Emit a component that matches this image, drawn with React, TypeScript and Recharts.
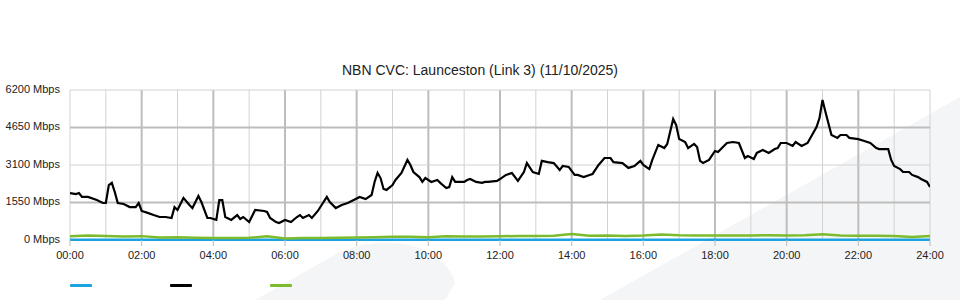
import React from "react";
import { LineChart, Line, XAxis, YAxis, ReferenceLine, Legend } from "recharts";

const chartTitle = "NBN CVC: Launceston (Link 3) (11/10/2025)";

// Minutes since midnight and Mbps for the black series
const blackTimes = [
  0, 10, 15, 20, 30, 45, 55, 60, 65, 70, 75, 80, 90, 100, 110, 115, 120, 130, 140, 150,
  160, 170, 175, 180, 190, 200, 205, 215, 220, 230, 235, 245, 250, 255, 260, 270, 280, 285, 290, 300,
  310, 325, 330, 335, 345, 350, 360, 370, 380, 385, 390, 400, 405, 415, 430, 435, 445, 455, 465, 475,
  485, 495, 505, 510, 515, 520, 525, 530, 540, 545, 555, 565, 570, 575, 585, 590, 595, 605, 615, 620,
  630, 635, 640, 645, 660, 665, 670, 680, 690, 695, 700, 715, 720, 730, 740, 750, 760, 765, 775, 785,
  790, 800, 810, 820, 825, 835, 845, 850, 860, 870, 875, 885, 895, 905, 910, 925, 935, 945, 955, 960,
  970, 975, 985, 995, 1000, 1010, 1015, 1020, 1030, 1035, 1045, 1050, 1055, 1060, 1070, 1080, 1085, 1100, 1110, 1120,
  1130, 1135, 1145, 1150, 1160, 1170, 1180, 1185, 1190, 1200, 1210, 1215, 1225, 1235, 1250, 1255, 1260, 1265, 1275, 1285,
  1290, 1300, 1305, 1320, 1330, 1340, 1350, 1355, 1370, 1375, 1380, 1390, 1395, 1405, 1410, 1420, 1425, 1435, 1440,
];
const blackValues = [
  1940, 1900, 1940, 1780, 1780, 1650, 1530, 1530, 2270, 2360, 1980, 1530, 1490, 1360, 1360, 1530, 1200, 1120, 1030, 950,
  950, 910, 1360, 1240, 1740, 1450, 1320, 1820, 1570, 910, 910, 830, 1650, 1650, 950, 830, 1030, 870, 950, 740,
  1240, 1200, 1160, 910, 740, 700, 830, 740, 950, 1030, 910, 1030, 910, 1200, 1780, 1570, 1320, 1450, 1530, 1650,
  1780, 1690, 1860, 2400, 2770, 2560, 2110, 2070, 2270, 2480, 2770, 3310, 3100, 2810, 2600, 2400, 2560, 2400, 2480, 2360,
  2150, 2190, 2600, 2400, 2400, 2480, 2520, 2400, 2360, 2400, 2400, 2440, 2520, 2690, 2770, 2440, 2810, 3180, 2810, 2730,
  3270, 3220, 3180, 2890, 3060, 3020, 2690, 2690, 2600, 2690, 2730, 3100, 3390, 3390, 3220, 3180, 2980, 3060, 3270, 3100,
  2930, 3310, 3930, 3800, 3970, 5000, 4750, 4170, 4050, 3800, 3970, 3840, 3270, 3180, 3310, 3680, 3640, 4010, 4050, 4010,
  3390, 3470, 3350, 3600, 3720, 3600, 3760, 3800, 4010, 4010, 3890, 4050, 3890, 4010, 4670, 5040, 5790, 5290, 4340, 4220,
  4340, 4340, 4220, 4170, 4090, 4010, 3800, 3760, 3760, 3310, 3060, 2930, 2810, 2810, 2690, 2600, 2520, 2400, 2190,
];

// Green series, every 30 minutes
const greenTimes = [
  0, 30, 60, 90, 120, 150, 180, 210, 240, 270, 300, 330, 360, 390, 420, 450, 480, 510, 540, 570,
  600, 630, 660, 690, 720, 750, 780, 810, 840, 870, 900, 930, 960, 990, 1020, 1050, 1080, 1110, 1140, 1170,
  1200, 1230, 1260, 1290, 1320, 1350, 1380, 1410, 1440,
];
const greenValues = [
  150, 190, 170, 140, 160, 100, 110, 90, 80, 80, 90, 150, 60, 80, 80, 90, 100, 110, 130, 130,
  110, 150, 140, 140, 150, 170, 170, 180, 250, 180, 190, 170, 190, 230, 200, 190, 190, 190, 190, 200,
  190, 200, 240, 190, 180, 180, 170, 120, 170,
];

// Blue series, hourly
const blueTimes = [0, 60, 120, 180, 240, 300, 360, 420, 480, 540, 600, 660, 720, 780, 840, 900, 960, 1020, 1080, 1140, 1200, 1260, 1320, 1380, 1440];
const blueValues = [15, 15, 15, 15, 15, 15, 15, 15, 15, 15, 15, 15, 15, 15, 15, 15, 15, 15, 15, 15, 15, 15, 15, 15, 15];

const xTicks = [0, 120, 240, 360, 480, 600, 720, 840, 960, 1080, 1200, 1320, 1440];
const xTickLabels = ["00:00", "02:00", "04:00", "06:00", "08:00", "10:00", "12:00", "14:00", "16:00", "18:00", "20:00", "22:00", "24:00"];
const yTicks = [0, 1550, 3100, 4650, 6200];
const yTickLabels = ["0 Mbps", "1550 Mbps", "3100 Mbps", "4650 Mbps", "6200 Mbps"];
const hourLines = [0, 60, 120, 180, 240, 300, 360, 420, 480, 540, 600, 660, 720, 780, 840, 900, 960, 1020, 1080, 1140, 1200, 1260, 1320, 1380, 1440];
const darkYLines = [1550, 4650];
const lightYLines = [3100, 6200];

const seriesNames = ["Series A", "Series B", "Series C"];
const seriesColors = ["#1ba3e0", "#000000", "#7dbb2e"];

const toRows = (times: number[], values: number[]) => times.map((t, i) => ({ t, v: values[i] }));
const blueData = toRows(blueTimes, blueValues);
const blackData = toRows(blackTimes, blackValues);
const greenData = toRows(greenTimes, greenValues);

const FONT = "'Liberation Sans', Arial, sans-serif";

const renderLegend = (props: any) => {
  const payload = props.payload || [];
  return (
    <div style={{ display: "flex", height: 10, alignItems: "center" }}>
      {payload.map((p: any, i: number) => (
        <div key={i} style={{ width: 100 }}>
          <span style={{ display: "block", width: 22, height: 3, background: p.color, borderRadius: 1 }} />
        </div>
      ))}
    </div>
  );
};

const YTick = (props: any) => {
  const { x, y, payload } = props;
  return (
    <text x={x} y={y} dy={2.5} textAnchor="end" fontSize={11} fill="#222" fontFamily={FONT}>
      {yTickLabels[yTicks.indexOf(payload.value)]}
    </text>
  );
};

const XTick = (props: any) => {
  const { x, y, payload } = props;
  return (
    <text x={x} y={y} dy={9} textAnchor="middle" fontSize={11} fill="#222" fontFamily={FONT}>
      {xTickLabels[xTicks.indexOf(payload.value)]}
    </text>
  );
};

export default function App() {
  return (
    <div style={{ position: "absolute", left: 0, top: 0, width: 960, height: 300, background: "#fff", overflow: "hidden" }}>
      <svg width={960} height={300} style={{ position: "absolute", left: 0, top: 0 }}>
        <path d="M 255 300 L 340 252 Q 380 236 420 248 Q 450 262 455 283 L 445 300 Z" fill="#f4f5f7" />
        <path d="M 600 300 L 960 97 L 960 300 Z" fill="#f4f5f7" />
      </svg>
      <div
        style={{
          position: "absolute",
          left: 0,
          top: 62,
          width: 960,
          textAlign: "center",
          fontFamily: FONT,
          fontSize: 14,
          color: "#222",
          lineHeight: "16px",
        }}
      >
        {chartTitle}
      </div>
      <div style={{ position: "absolute", left: 0, top: 0 }}>
        <LineChart width={960} height={300} margin={{ top: 90, right: 30, bottom: 30, left: 0 }}>
          {hourLines.map((h) => (
            <ReferenceLine
              key={"h" + h}
              x={h}
              stroke={h % 120 === 0 && h !== 0 && h !== 1440 ? "#bdbdbd" : "#d2d2d2"}
              strokeWidth={h % 120 === 0 && h !== 0 && h !== 1440 ? 2 : 1}
              ifOverflow="extendDomain"
            />
          ))}
          {lightYLines.map((y) => (
            <ReferenceLine key={"ly" + y} y={y} stroke="#d2d2d2" strokeWidth={1} />
          ))}
          {darkYLines.map((y) => (
            <ReferenceLine key={"dy" + y} y={y} stroke="#bdbdbd" strokeWidth={2} />
          ))}
          <XAxis
            dataKey="t"
            type="number"
            domain={[0, 1440]}
            ticks={xTicks}
            allowDataOverflow
            height={20}
            axisLine={false}
            tickLine={{ stroke: "#bbbbbb" }}
            tickSize={6}
            tickMargin={4}
            tick={<XTick />}
          />
          <YAxis
            type="number"
            domain={[0, 6200]}
            ticks={yTicks}
            width={70}
            axisLine={false}
            tickLine={false}
            tickSize={0}
            tickMargin={10}
            tick={<YTick />}
          />
          <Legend
            content={renderLegend}
            height={10}
            wrapperStyle={{ position: "absolute", left: 70, top: 280, bottom: "auto", width: 400 }}
          />
          <Line
            data={blueData}
            dataKey="v"
            name={seriesNames[0]}
            stroke={seriesColors[0]}
            strokeWidth={2.5}
            dot={false}
            isAnimationActive={false}
            type="linear"
          />
          <Line
            data={blackData}
            dataKey="v"
            name={seriesNames[1]}
            stroke={seriesColors[1]}
            strokeWidth={2.2}
            dot={false}
            isAnimationActive={false}
            type="linear"
          />
          <Line
            data={greenData}
            dataKey="v"
            name={seriesNames[2]}
            stroke={seriesColors[2]}
            strokeWidth={2.5}
            dot={false}
            isAnimationActive={false}
            type="linear"
          />
        </LineChart>
      </div>
    </div>
  );
}
